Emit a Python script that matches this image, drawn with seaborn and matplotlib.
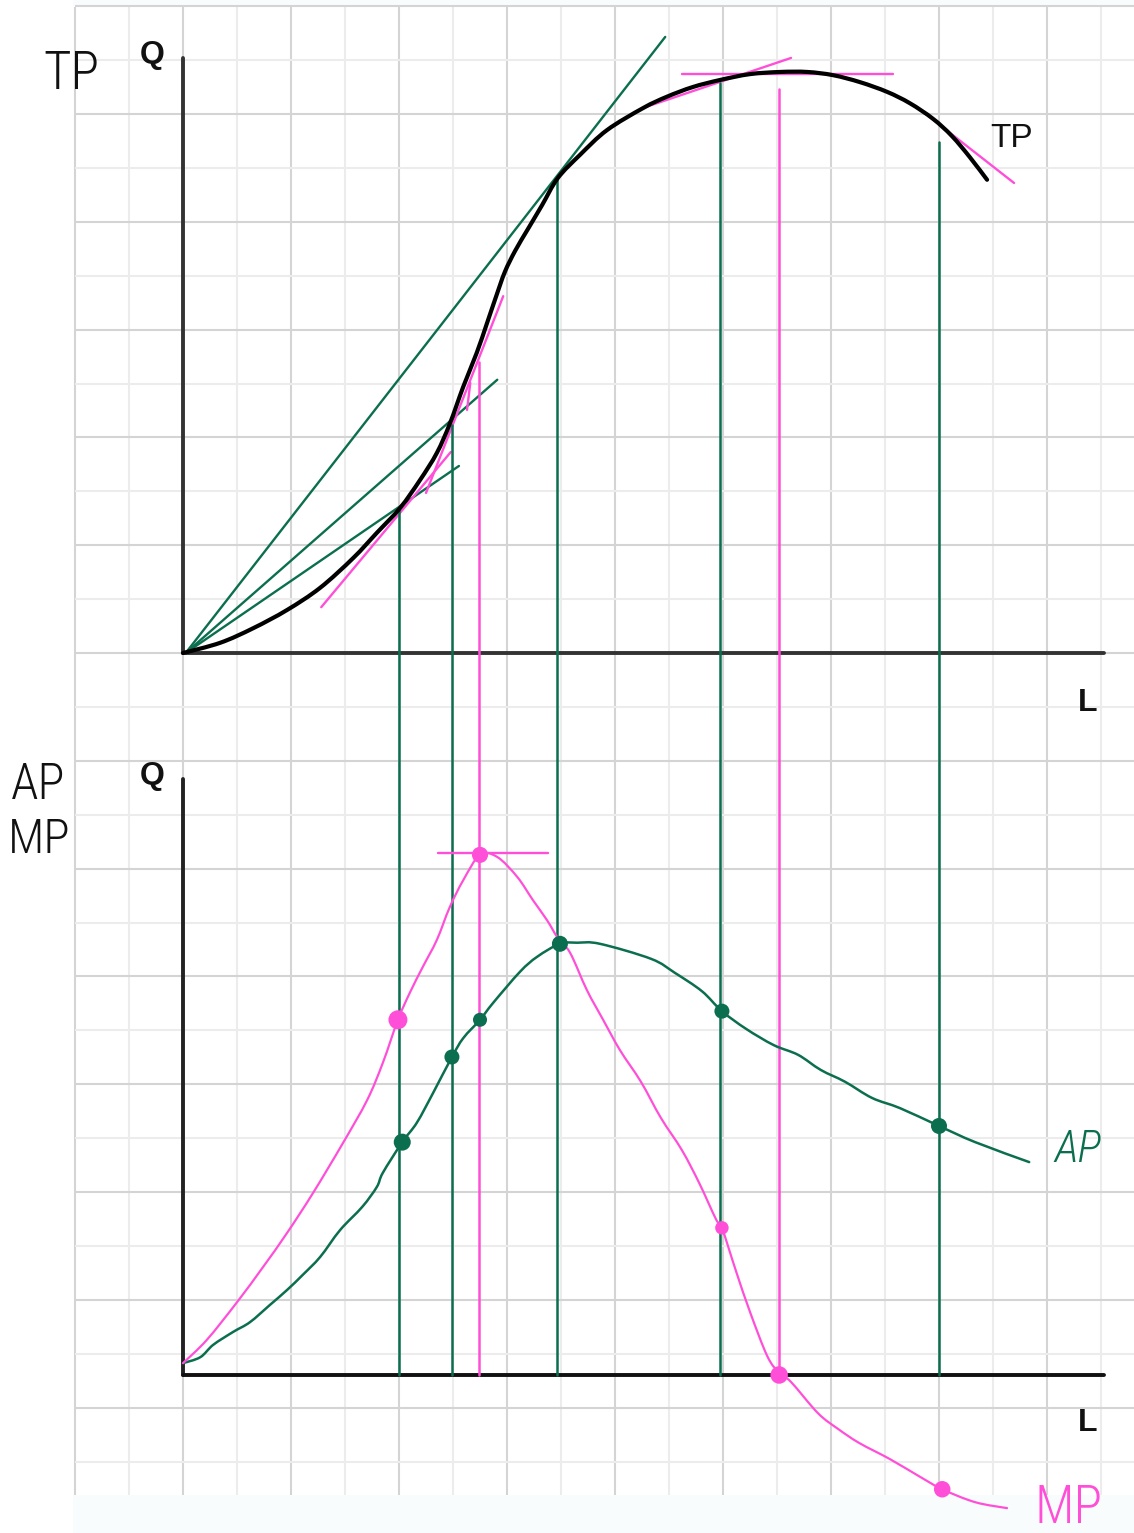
import matplotlib
matplotlib.use("Agg")
import matplotlib.pyplot as plt
from matplotlib import font_manager as fm
from matplotlib.path import Path
from matplotlib.patches import PathPatch
import seaborn as sns
import numpy as np

# ---------------- data (grid units: 1 unit = one grid cell) ----------------
# Top panel: total product curve (L, Q)
TP_L = [0, 0.69, 1.30, 1.93, 2.54, 3.15, 3.59, 4.02, 4.39, 4.70, 4.94, 5.19, 5.44, 5.63,
        5.80, 5.96, 6.15, 6.39, 6.65, 6.94, 7.35, 7.85, 8.52, 8.96, 9.44, 9.94, 10.50,
        11.06, 11.56, 12.04, 12.54, 13.04, 13.46, 13.89, 14.24, 14.57, 14.89]
TP_Q = [0, 0.19, 0.46, 0.80, 1.21, 1.76, 2.23, 2.69, 3.21, 3.71, 4.25, 4.94, 5.57, 6.12,
        6.62, 7.07, 7.46, 7.87, 8.31, 8.81, 9.24, 9.70, 10.11, 10.32, 10.50, 10.63, 10.74,
        10.78, 10.78, 10.72, 10.59, 10.41, 10.20, 9.91, 9.59, 9.20, 8.78]

# rays from the origin (average product slopes)
RAY_END_L = [8.93, 5.82, 5.11]
RAY_END_Q = [11.43, 5.07, 3.47]

# tangent segments (marginal product slopes) on TP
TAN_L0 = [2.56, 4.50, 5.26, 9.24, 8.57, 13.59]
TAN_Q0 = [0.85, 2.97, 4.51, 10.74, 10.13, 10.13]
TAN_L1 = [4.96, 5.93, 5.32, 13.15, 11.26, 15.39]
TAN_Q1 = [3.73, 6.62, 5.01, 10.74, 11.04, 8.72]

# drop lines from TP down to the lower axis
GREEN_DROP_L = [4.0, 4.98, 6.93, 9.94, 14.0]
GREEN_DROP_TOP = [2.69, 4.23, 8.81, 10.58, 9.48]
PINK_DROP_L = [5.48, 11.04]
PINK_DROP_TOP = [5.40, 10.46]

# Bottom panel (Q measured from the lower L axis)
AP_L = [0, 0.32, 0.56, 0.93, 1.24, 1.61, 1.93, 2.22, 2.54, 2.91, 3.32, 3.59, 3.70, 4.06,
        4.33, 4.63, 4.98, 5.19, 5.50, 5.74, 6.24, 6.56, 6.98, 7.30, 7.72, 8.67, 9.11, 9.61,
        9.98, 10.43, 10.94, 11.39, 11.81, 12.26, 12.76, 13.28, 14.0, 14.67, 15.67]
AP_Q = [0.22, 0.33, 0.56, 0.80, 0.98, 1.30, 1.58, 1.86, 2.19, 2.69, 3.12, 3.49, 3.75, 4.32,
        4.68, 5.23, 5.90, 6.25, 6.59, 6.90, 7.48, 7.76, 8.00, 8.02, 8.00, 7.72, 7.46, 7.12,
        6.75, 6.42, 6.12, 5.94, 5.66, 5.44, 5.14, 4.95, 4.62, 4.32, 3.95]
MP_L = [0, 0.44, 1.0, 1.48, 1.93, 2.41, 2.96, 3.41, 3.70, 3.98, 4.20, 4.44, 4.70, 4.94,
        5.19, 5.50, 5.82, 6.19, 6.48, 6.74, 6.94, 7.17, 7.48, 7.78, 8.09, 8.48, 8.85, 9.24,
        9.56, 9.87, 9.98, 10.24, 10.50, 10.82, 11.04, 11.26, 11.76, 12.13, 12.52, 13.09,
        13.65, 14.06, 14.67, 15.26]
MP_Q = [0.22, 0.65, 1.35, 2.00, 2.64, 3.38, 4.30, 5.10, 5.79, 6.59, 7.09, 7.57, 8.07, 8.68,
        9.18, 9.65, 9.61, 9.24, 8.81, 8.44, 8.11, 7.83, 7.14, 6.59, 6.03, 5.44, 4.77, 4.17,
        3.56, 2.89, 2.73, 1.93, 1.17, 0.35, 0.04, -0.13, -0.71, -1.00, -1.26, -1.56,
        -1.89, -2.12, -2.36, -2.47]

AP_DOT_L = [4.06, 4.98, 5.50, 6.98, 9.98, 14.0]
AP_DOT_Q = [4.32, 5.90, 6.59, 8.00, 6.75, 4.62]
AP_DOT_SIZE = [150, 117, 102, 133, 117, 133]
MP_DOT_L = [3.98, 5.50, 9.98, 11.04, 14.06]
MP_DOT_Q = [6.59, 9.65, 2.73, 0.0, -2.12]
MP_DOT_SIZE = [187, 135, 94, 159, 141]
MP_PEAK_TAN_L = [4.72, 6.76]
MP_PEAK_TAN_Q = [9.69, 9.69]

# ---------------- layout ----------------
PX = 54.0          # pixels per grid unit (x)
PY = 53.9          # pixels per grid unit (y)
BASE = -13.395     # position of the lower L axis in the common frame

GREEN = "#0b6e4f"
PINK = "#ff4fd8"


def _w(w):
    if isinstance(w, str):
        return fm.weight_dict.get(w, 400)
    return int(w)


def pick_hand_font():
    entries = fm.fontManager.ttflist
    prefs = [("Roboto Condensed", True), ("Open Sans Condensed", True),
             ("Liberation Sans Narrow", False), ("Lato", True), ("Roboto", True),
             ("Open Sans", True), ("Noto Sans", True)]
    for fam, need_light in prefs:
        ws = sorted({_w(e.weight) for e in entries if e.name == fam})
        if not ws:
            continue
        lights = [w for w in ws if 200 <= w <= 350]
        if lights:
            return fam, min(lights, key=lambda w: abs(w - 300))
        if not need_light:
            return fam, 400
    return "DejaVu Sans", 400


HAND_FAM, HAND_W = pick_hand_font()
HAND = [HAND_FAM, "DejaVu Sans"]

sns.set_theme(style="white")
plt.rcParams["font.family"] = ["Liberation Sans", "DejaVu Sans"]

fig = plt.figure(figsize=(11.34, 15.33), dpi=100)
ax = fig.add_axes([0, 0, 1, 1])
ax.set_xlim(-183 / PX, 951 / PX)
ax.set_ylim(-880 / PY, 653 / PY)
ax.axis("off")


def smooth_curve(xs, ys, color, lw, z):
    """Draw a smooth stroke that passes through every read point."""
    P = np.column_stack([xs, ys]).astype(float)
    n = len(P)
    verts = [P[0]]
    codes = [Path.MOVETO]
    for i in range(n - 1):
        p0 = P[i - 1] if i > 0 else P[i]
        p1, p2 = P[i], P[i + 1]
        p3 = P[i + 2] if i + 2 < n else P[i + 1]
        verts += [p1 + (p2 - p0) / 6.0, p2 - (p3 - p1) / 6.0, p2]
        codes += [Path.CURVE4] * 3
    ax.add_patch(PathPatch(Path(verts, codes), facecolor="none", edgecolor=color,
                           lw=lw, capstyle="round", joinstyle="round", zorder=z))


# background grid
y_top, y_bot = 646 / PY, -842 / PY
ax.axhspan(y_bot - 3, y_bot, xmin=0.064, color="#f8fcfc", lw=0, zorder=0)
ax.axhspan(y_top, y_top + 2, xmin=0.064, color="#f8fcfc", lw=0, zorder=0)
for k in range(-2, 18):
    ax.plot([k, k], [y_bot, y_top], color="#d4d4d4" if k % 2 == 0 else "#ececec",
            lw=1.5, zorder=1, solid_capstyle="butt")
for k in range(-15, 13):
    ax.plot([-2, 20], [k, k], color="#d4d4d4" if k % 2 == 0 else "#ececec",
            lw=1.5, zorder=1, solid_capstyle="butt")

# axes of both panels
ax.plot([0, 0], [0, 11.04], color="#333333", lw=2.8, zorder=3)
ax.plot([0, 17.05], [0, 0], color="#333333", lw=2.8, zorder=3)
ax.plot([0, 0], [BASE, BASE + 11.06], color="#222222", lw=2.8, zorder=3)
ax.plot([0, 17.05], [BASE, BASE], color="#111111", lw=2.8, zorder=3)

# rays from origin
for le, qe in zip(RAY_END_L, RAY_END_Q):
    ax.plot([0.05, le], [0, qe], color=GREEN, lw=1.7, zorder=4)

# tangents
for l0, q0, l1, q1 in zip(TAN_L0, TAN_Q0, TAN_L1, TAN_Q1):
    ax.plot([l0, l1], [q0, q1], color=PINK, lw=1.7, zorder=4)

# drop lines
for l, top in zip(GREEN_DROP_L, GREEN_DROP_TOP):
    ax.plot([l, l], [BASE, top], color=GREEN, lw=1.8, zorder=4)
for l, top in zip(PINK_DROP_L, PINK_DROP_TOP):
    ax.plot([l, l], [BASE, top], color=PINK, lw=1.8, zorder=4)

# curves
smooth_curve(TP_L, TP_Q, "black", 3.0, 5)
smooth_curve(AP_L, np.array(AP_Q) + BASE, GREEN, 1.8, 5)
smooth_curve(MP_L, np.array(MP_Q) + BASE, PINK, 1.6, 5)
ax.plot(MP_PEAK_TAN_L, np.array(MP_PEAK_TAN_Q) + BASE, color=PINK, lw=1.7, zorder=4)

# dots
sns.scatterplot(x=AP_DOT_L, y=np.array(AP_DOT_Q) + BASE, size=AP_DOT_SIZE,
                sizes=(min(AP_DOT_SIZE), max(AP_DOT_SIZE)), color=GREEN,
                edgecolor="none", legend=False, ax=ax, zorder=6)
sns.scatterplot(x=MP_DOT_L, y=np.array(MP_DOT_Q) + BASE, size=MP_DOT_SIZE,
                sizes=(min(MP_DOT_SIZE), max(MP_DOT_SIZE)), color=PINK,
                edgecolor="none", legend=False, ax=ax, zorder=6)

# labels
lab = dict(ha="center", va="center", color="#111111")
ax.text(-0.574, 11.10, "Q", fontsize=23, fontweight="bold", **lab)
ax.text(16.76, -0.93, "L", fontsize=23, fontweight="bold", **lab)
ax.text(15.35, 9.55, "TP", fontsize=24, **lab)
ax.text(-0.574, -2.29, "Q", fontsize=23, fontweight="bold", **lab)
ax.text(16.76, -14.29, "L", fontsize=23, fontweight="bold", **lab)

ax.text(-2.06, 10.74, "TP", fontsize=38, family=HAND, fontweight=HAND_W, **lab)
ax.text(-2.69, -2.45, "AP", fontsize=36, family=HAND, fontweight=HAND_W, **lab)
ax.text(-2.67, -3.47, "MP", fontsize=35, family=HAND, fontweight=HAND_W, **lab)
ax.text(16.57, 4.17 + BASE, "AP", fontsize=32, family=HAND, fontweight=HAND_W,
        style="italic", ha="center", va="center", color=GREEN)
ax.text(16.39, -2.47 + BASE, "MP", fontsize=38, family=HAND, fontweight=HAND_W,
        ha="center", va="center", color=PINK)

fig.savefig("out.png", dpi=100, facecolor="white")
